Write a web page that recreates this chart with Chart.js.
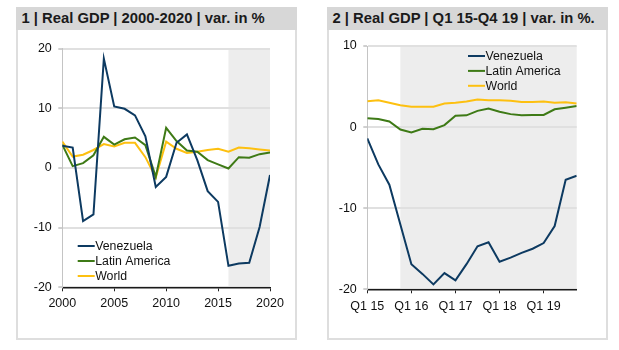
<!DOCTYPE html>
<html>
<head>
<meta charset="utf-8">
<script src="https://cdn.jsdelivr.net/npm/chart.js@4/dist/chart.umd.min.js"></script>
<style>
  html, body { margin: 0; padding: 0; background: #ffffff; }
  body { width: 619px; height: 350px; position: relative; overflow: hidden; font-family: Arial, "Liberation Sans", sans-serif; }
  .hdr { position: absolute; top: 7px; height: 23px; width: 281px; background: #d7d7d7; color: #1a1a1a;
         font-weight: bold; font-size: 14.8px; line-height: 23px; box-sizing: border-box; padding-left: 5.5px; white-space: nowrap; }
  .body { position: absolute; top: 30px; height: 310px; width: 281px; box-sizing: border-box;
          border: 2px solid #dedede; border-top: none; background: #fff; }
  canvas { position: absolute; }
</style>
</head>
<body>
<div class="hdr" style="left:16px">1 | Real GDP | 2000-2020 | var. in %</div>
<div class="body" style="left:16px"></div>
<div class="hdr" style="left:327px">2 | Real GDP | Q1 15-Q4 19 | var. in %.</div>
<div class="body" style="left:327px"></div>
<canvas id="c1" style="left:18px;top:30px" width="277" height="308"></canvas>
<canvas id="c2" style="left:329px;top:30px" width="277" height="308"></canvas>
<script>
// ---------- Data ----------
const seriesNames = ['Venezuela', 'Latin America', 'World'];
const years = [2000,2001,2002,2003,2004,2005,2006,2007,2008,2009,2010,2011,2012,2013,2014,2015,2016,2017,2018,2019,2020];
const venAnnual   = [3.7, 3.4, -8.9, -7.8, 18.3, 10.3, 9.9, 8.8, 5.3, -3.2, -1.5, 4.2, 5.6, 1.3, -3.9, -5.7, -16.4, -16.0, -15.9, -9.9, -1.2];
const latamAnnual = [3.9, 0.3, 0.8, 2.1, 5.2, 3.9, 4.8, 5.1, 3.8, -1.5, 6.7, 4.5, 2.9, 2.7, 1.3, 0.6, -0.1, 1.8, 1.7, 2.3, 2.6];
const worldAnnual = [4.4, 1.9, 2.2, 3.0, 4.0, 3.6, 4.2, 4.2, 1.8, -1.6, 4.4, 3.2, 2.5, 2.7, 3.0, 3.2, 2.7, 3.4, 3.3, 3.1, 2.9];
const yearTicks = [2000, 2005, 2010, 2015, 2020];

const quarterLabels = ['Q1 15','Q2 15','Q3 15','Q4 15','Q1 16','Q2 16','Q3 16','Q4 16','Q1 17','Q2 17','Q3 17','Q4 17',
                       'Q1 18','Q2 18','Q3 18','Q4 18','Q1 19','Q2 19','Q3 19','Q4 19'];
const venQuarter   = [-1.4, -4.6, -7.1, -12.0, -16.9, -18.1, -19.4, -18.0, -18.9, -16.9, -14.7, -14.2, -16.6, -16.1, -15.5, -15.0, -14.3, -12.2, -6.5, -6.0];
const latamQuarter = [1.1, 1.0, 0.7, -0.3, -0.65, -0.2, -0.25, 0.25, 1.4, 1.45, 2.0, 2.3, 1.9, 1.6, 1.45, 1.5, 1.5, 2.2, 2.4, 2.6];
const worldQuarter = [3.2, 3.3, 3.0, 2.7, 2.5, 2.5, 2.5, 2.9, 3.0, 3.15, 3.4, 3.3, 3.3, 3.25, 3.1, 3.1, 3.15, 3.0, 3.05, 2.9];
const yTicks1 = [-20, -10, 0, 10, 20];
const yTicks2 = [-20, -10, 0, 10];

// shaded (forecast) ranges
const shade1 = [2016, 2020];
const shade2 = [3, 19];

// ---------- Style ----------
const colors = ['#0d3a61', '#3e7a16', '#fdc010'];
const FONT = 'Arial, "Liberation Sans", sans-serif';

const shadePlugin = {
  id: 'shade',
  beforeDraw(chart, args, opts) {
    const { ctx, chartArea, scales } = chart;
    const x0 = scales.x.getPixelForValue(opts.from);
    const x1 = scales.x.getPixelForValue(opts.to);
    ctx.save();
    ctx.fillStyle = '#ededed';
    ctx.fillRect(x0, chartArea.top, x1 - x0, chartArea.bottom - chartArea.top);
    ctx.restore();
  }
};

const legendPlugin = {
  id: 'customLegend',
  afterDatasetsDraw(chart, args, opts) {
    const { ctx } = chart;
    ctx.save();
    ctx.font = '12.3px ' + FONT;
    ctx.textBaseline = 'middle';
    chart.data.datasets.forEach((ds, i) => {
      const y = opts.y + i * opts.gap;
      ctx.strokeStyle = ds.borderColor;
      ctx.lineWidth = 2;
      ctx.beginPath();
      ctx.moveTo(opts.x, y);
      ctx.lineTo(opts.x + 17, y);
      ctx.stroke();
      ctx.fillStyle = '#111';
      ctx.fillText(ds.label, opts.x + 17.5, y + 0.5);
    });
    ctx.restore();
  }
};

function makeDatasets(xs, arrs) {
  return arrs.map((a, i) => ({
    label: seriesNames[i],
    data: a.map((v, j) => ({ x: xs[j], y: v })),
    borderColor: colors[i],
    backgroundColor: colors[i],
    borderWidth: 2,
    pointRadius: 0,
    tension: 0,
    fill: false
  }));
}

function yScale(width, ticksArr) {
  return {
    type: 'linear',
    min: ticksArr[0], max: ticksArr[ticksArr.length - 1],
    afterBuildTicks: s => { s.ticks = ticksArr.map(v => ({ value: v })); },
    afterFit: s => { s.width = width; },
    grid: { color: '#e0e0e0', lineWidth: 2, tickLength: 4, tickColor: '#a0a0a0', tickWidth: 1, drawTicks: true },
    border: { display: true, color: '#c4c4c4', width: 1 },
    ticks: { color: '#111', font: { size: 12.5, family: FONT }, padding: 6.5, callback: v => String(v) }
  };
}

function xScale(height, min, max, tickVals, labelFn, pad) {
  return {
    type: 'linear',
    min: min, max: max,
    afterBuildTicks: s => { s.ticks = tickVals.map(v => ({ value: v })); },
    afterFit: s => { s.height = height; },
    grid: { drawOnChartArea: false, drawTicks: true, tickLength: 4, tickColor: '#222', tickWidth: 1 },
    border: { display: true, color: '#1a1a1a', width: 1.5 },
    ticks: { color: '#111', font: { size: 12.5, family: FONT }, padding: pad, maxRotation: 0, autoSkip: false, callback: labelFn }
  };
}

Chart.defaults.animation = false;

new Chart(document.getElementById('c1'), {
  type: 'line',
  data: { datasets: makeDatasets(years, [venAnnual, latamAnnual, worldAnnual]) },
  options: {
    responsive: false,
    animation: false,
    layout: { padding: { top: 18.5, right: 25, left: 0, bottom: 0 } },
    scales: {
      x: xScale(50.7, years[0], years[years.length - 1], yearTicks, v => String(v), 5),
      y: yScale(44.3, yTicks1)
    },
    plugins: {
      legend: { display: false }, tooltip: { enabled: false },
      shade: { from: shade1[0], to: shade1[1] },
      customLegend: { x: 59.7, y: 216, gap: 15 }
    }
  },
  plugins: [shadePlugin, legendPlugin]
});

const qIdx = quarterLabels.map((_, i) => i);
new Chart(document.getElementById('c2'), {
  type: 'line',
  data: { datasets: makeDatasets(qIdx, [venQuarter, latamQuarter, worldQuarter]) },
  options: {
    responsive: false,
    animation: false,
    layout: { padding: { top: 16, right: 29.3, left: 0, bottom: 0 } },
    scales: {
      x: xScale(48.7, 0, quarterLabels.length - 1, qIdx.filter(i => i % 4 === 0), v => quarterLabels[v], 6),
      y: yScale(38.3, yTicks2)
    },
    plugins: {
      legend: { display: false }, tooltip: { enabled: false },
      shade: { from: shade2[0], to: shade2[1] },
      customLegend: { x: 139, y: 26, gap: 14.9 }
    }
  },
  plugins: [shadePlugin, legendPlugin]
});
</script>
</body>
</html>
